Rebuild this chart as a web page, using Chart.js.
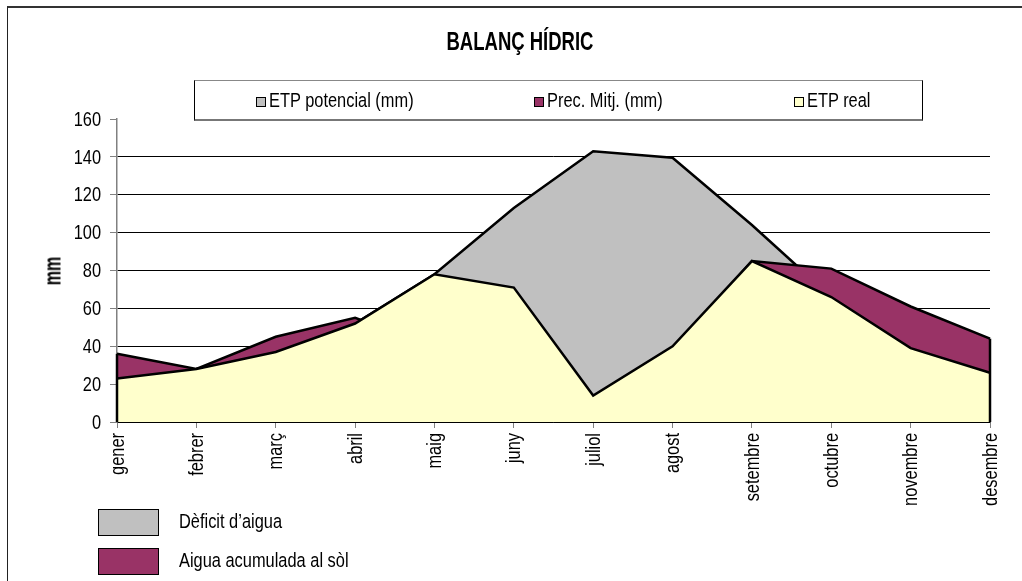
<!DOCTYPE html>
<html><head><meta charset="utf-8">
<script src="https://cdn.jsdelivr.net/npm/chart.js@4"></script>
<style>
html,body{margin:0;padding:0;background:#fff;}
body{width:1022px;height:581px;position:relative;overflow:hidden;font-family:'Liberation Sans',Arial,sans-serif;color:#000;}
#frame{position:absolute;left:7px;top:6px;width:1100px;height:700px;border-top:2px solid #333;border-left:1px solid #222;}
canvas{position:absolute;left:0;top:0;}
.nar{display:inline-block;transform-origin:0 50%;transform:scaleX(0.8);white-space:nowrap;}
#title{position:absolute;top:27px;left:520px;transform:translateX(-50%) scaleX(0.74);font-weight:bold;font-size:25px;white-space:nowrap;}
#ytitle{position:absolute;left:53px;top:271px;transform:translate(-50%,-50%) rotate(-90deg) scaleX(0.7);font-weight:bold;font-size:23px;white-space:nowrap;}
#legend{position:absolute;left:194px;top:80px;width:729px;height:41px;border-top:1px solid #888;border-left:1px solid #000;border-right:1px solid #000;border-bottom:2px solid #777;box-sizing:border-box;font-size:20.5px;}
.li{position:absolute;top:8px;white-space:nowrap;line-height:22px;}
.sw{display:inline-block;width:8px;height:8px;border:1.5px solid #000;vertical-align:0px;margin-right:3px;}
.bl{position:absolute;left:98px;width:59px;height:25px;border:1.5px solid #000;}
.bt{position:absolute;left:179px;font-size:20.5px;white-space:nowrap;}
</style></head>
<body>
<div id="frame"></div>
<canvas id="c" width="1022" height="581"></canvas>
<div id="title">BALANÇ HÍDRIC</div>
<div id="ytitle">mm</div>
<div id="legend"></div>
<div class="bl" style="top:509px;background:#C0C0C0"></div>
<div class="bt" style="top:509px"><span class="nar">Dèficit d’aigua</span></div>
<div class="bl" style="top:548px;background:#993366"></div>
<div class="bt" style="top:548px"><span class="nar">Aigua acumulada al sòl</span></div>
<script>
const months = ['gener','febrer','març','abril','maig','juny','juliol','agost','setembre','octubre','novembre','desembre'];
const etpPotencial = [23, 28, 37, 52, 78, 113, 143, 139.5, 104, 66, 39, 26];
const precMitj = [36, 28, 45, 55, 40, 30, 12, 38, 85, 81, 61, 44];
const etpReal = [23, 28, 37, 52, 78, 71, 14, 40, 85, 66, 39, 26];
const yTicks = [0, 20, 40, 60, 80, 100, 120, 140, 160];

const seriesNames = ['ETP potencial (mm)', 'Prec. Mitj. (mm)', 'ETP real'];
const seriesColors = ['#C0C0C0', '#993366', '#FFFFCC'];
const legendX = [61, 339, 599];

const FONT = "'Liberation Sans', Arial, sans-serif";
const NARROW = 0.8;

// HTML legend
const lg = document.getElementById('legend');
seriesNames.forEach((n, i) => {
  const d = document.createElement('div');
  d.className = 'li';
  d.style.left = legendX[i] + 'px';
  d.innerHTML = '<span class="sw" style="background:' + seriesColors[i] + '"></span><span class="nar">' + n + '</span>';
  lg.appendChild(d);
});

const endEdges = {
  id: 'endEdges',
  afterDatasetsDraw(chart) {
    const ctx = chart.ctx, ys = chart.scales.y, xs = chart.scales.x;
    const n = months.length;
    [0, n - 1].forEach(idx => {
      const top = Math.max(etpPotencial[idx], precMitj[idx], etpReal[idx]);
      const x = xs.getPixelForValue(idx);
      ctx.save();
      ctx.strokeStyle = '#000';
      ctx.lineWidth = 2.5;
      ctx.beginPath();
      ctx.moveTo(x, ys.getPixelForValue(top));
      ctx.lineTo(x, ys.getPixelForValue(0));
      ctx.stroke();
      ctx.restore();
    });
  }
};

// narrow tick labels (Arial Narrow look) drawn at the scales' own tick positions
const narrowTicks = {
  id: 'narrowTicks',
  afterDraw(chart) {
    const ctx = chart.ctx, ys = chart.scales.y, xs = chart.scales.x;
    ctx.save();
    ctx.fillStyle = '#000';
    ctx.font = '20.5px ' + FONT;
    ctx.textAlign = 'right';
    ctx.textBaseline = 'middle';
    ys.ticks.forEach(t => {
      const y = ys.getPixelForValue(t.value);
      ctx.save();
      ctx.translate(ys.right - 16, y + 1);
      ctx.scale(NARROW, 1);
      ctx.fillText(String(t.value), 0, 0);
      ctx.restore();
    });
    months.forEach((m, i) => {
      const x = xs.getPixelForTick(i);
      ctx.save();
      ctx.translate(x + 1, xs.top + 11);
      ctx.rotate(-Math.PI / 2);
      ctx.scale(NARROW, 1);
      ctx.fillText(m, 0, 0);
      ctx.restore();
    });
    ctx.restore();
  }
};

const ds = (label, data, color) => ({
  label, data, backgroundColor: color, borderColor: '#000', borderWidth: 2.5,
  fill: 'origin', pointRadius: 0, tension: 0, borderJoinStyle: 'miter'
});

new Chart(document.getElementById('c'), {
  type: 'line',
  data: {
    labels: months,
    datasets: [
      ds(seriesNames[2], etpReal, seriesColors[2]),
      ds(seriesNames[1], precMitj, seriesColors[1]),
      ds(seriesNames[0], etpPotencial, seriesColors[0])
    ]
  },
  plugins: [endEdges, narrowTicks],
  options: {
    responsive: false,
    animation: false,
    devicePixelRatio: 1,
    layout: { padding: { left: 42, top: 119, right: 32, bottom: 39 } },
    plugins: { legend: { display: false }, title: { display: false }, tooltip: { enabled: false } },
    scales: {
      x: {
        offset: false,
        afterFit(s) { s.height = 120; },
        grid: { drawOnChartArea: false, drawTicks: true, tickLength: 6, tickColor: '#808080' },
        border: { color: '#000', width: 1.5 },
        ticks: { display: false, autoSkip: false }
      },
      y: {
        min: 0, max: 160,
        afterFit(s) { s.width = 75; },
        afterBuildTicks(s) { s.ticks = yTicks.map(v => ({ value: v })); },
        grid: { color: c => (c.tick && c.tick.value === 160) ? 'rgba(0,0,0,0)' : '#000', lineWidth: 1, tickLength: 7, tickColor: '#808080' },
        border: { color: '#808080', width: 1.5 },
        ticks: { display: false }
      }
    }
  }
});
</script>
</body></html>
